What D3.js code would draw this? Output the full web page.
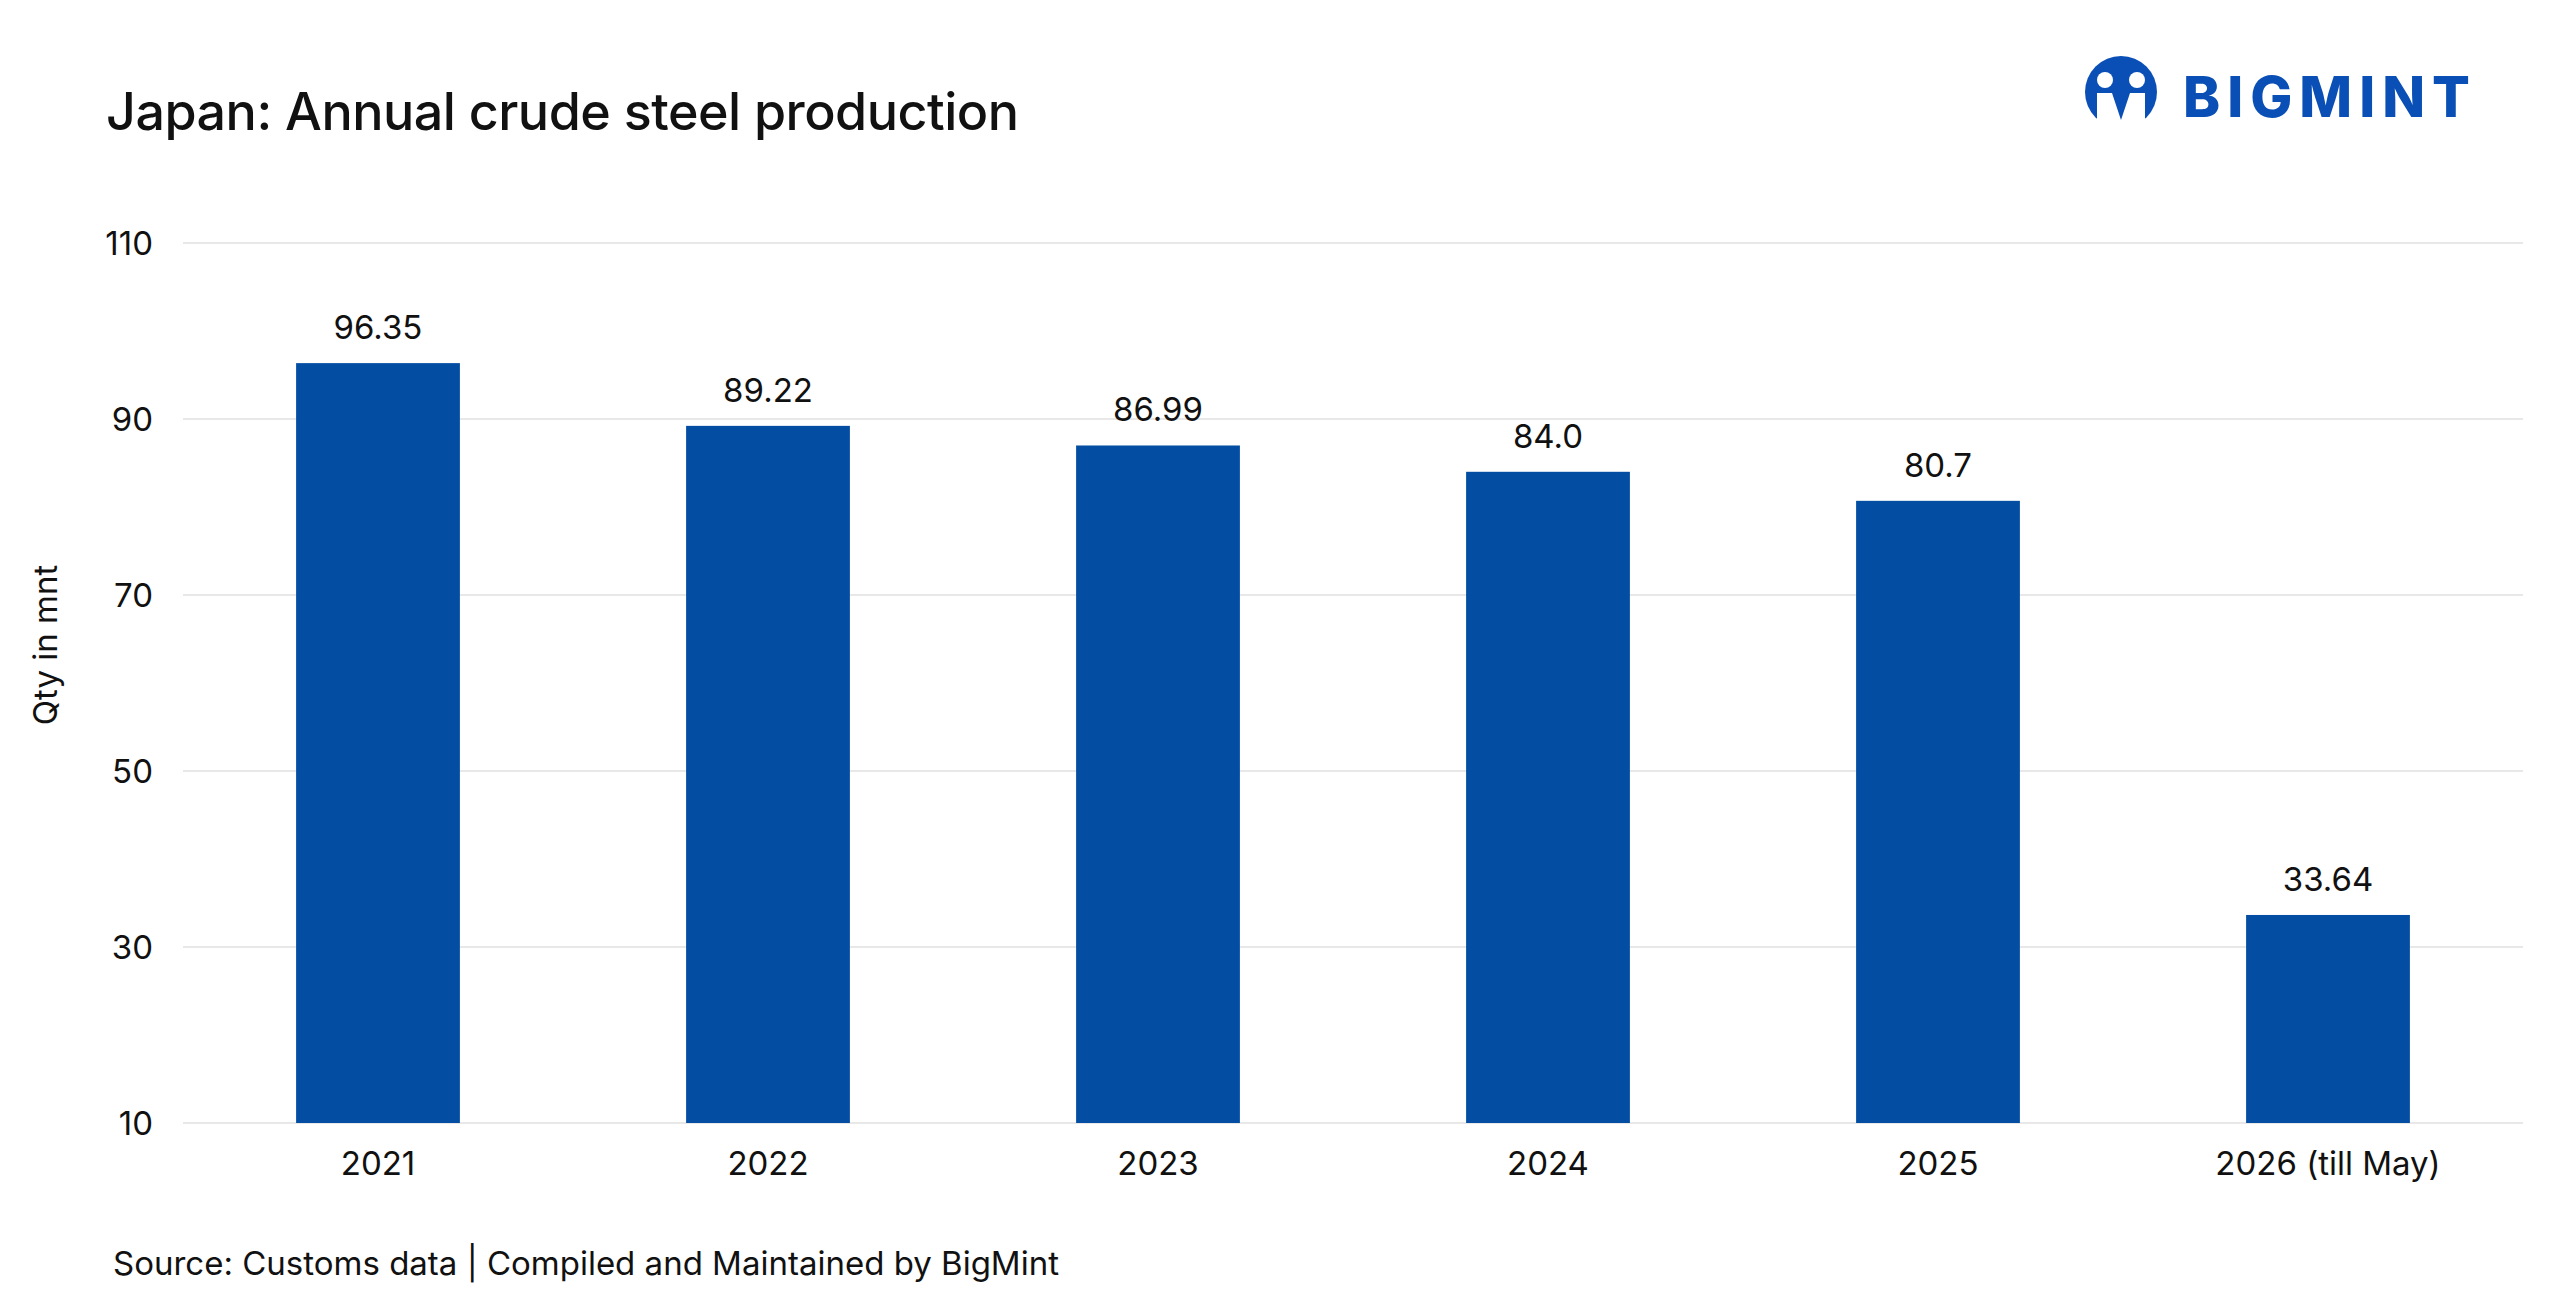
<!DOCTYPE html>
<html><head><meta charset="utf-8">
<script src="https://cdn.jsdelivr.net/npm/d3@7"></script>
<style>body{margin:0;background:#fff;font-family:Inter,"Open Sans",sans-serif;}</style>
</head><body><svg id="c" width="2560" height="1308"></svg>
<script>
// data
var years = ["2021", "2022", "2023", "2024", "2025", "2026 (till May)"];
var output = [96.35, 89.22, 86.99, 84.0, 80.7, 33.64];
var labels = ["96.35", "89.22", "86.99", "84.0", "80.7", "33.64"];
var yTicks = [10, 30, 50, 70, 90, 110];

var svg = d3.select("#c");
var plotL = 183, plotR = 2523, plotT = 243, plotB = 1123;

var x = d3.scaleBand().domain(years).range([plotL, plotR]).paddingInner(0.58).paddingOuter(0.29);
var y = d3.scaleLinear().domain([10, 110]).range([plotB, plotT]);

// grid
svg.append("g").selectAll("line").data(yTicks).join("line")
    .attr("x1", plotL).attr("x2", plotR)
    .attr("y1", d => y(d)).attr("y2", d => y(d))
    .attr("stroke", "#e8e8e8").attr("stroke-width", 2);

// y labels
svg.append("g").selectAll("text").data(yTicks).join("text")
    .attr("x", 153).attr("y", d => y(d)).attr("dy", "0.35em")
    .attr("text-anchor", "end").attr("font-size", 33).attr("fill", "#111")
    .text(d => d);

// bars
svg.append("g").selectAll("rect").data(output).join("rect")
    .attr("x", (d, i) => x(years[i])).attr("width", x.bandwidth())
    .attr("y", d => y(d)).attr("height", d => y(10) - y(d))
    .attr("fill", "#034ea2");

// value labels
svg.append("g").selectAll("text").data(output).join("text")
    .attr("x", (d, i) => x(years[i]) + x.bandwidth() / 2).attr("y", d => y(d) - 24)
    .attr("text-anchor", "middle").attr("font-size", 33).attr("fill", "#111")
    .text((d, i) => labels[i]);

// x labels
svg.append("g").selectAll("text").data(years).join("text")
    .attr("x", d => x(d) + x.bandwidth() / 2).attr("y", 1175)
    .attr("text-anchor", "middle").attr("font-size", 33).attr("fill", "#111")
    .text(d => d);

// axis title
svg.append("text").attr("transform", "translate(57,645) rotate(-90)")
    .attr("text-anchor", "middle").attr("font-size", 33).attr("fill", "#111").text("Qty in mnt");

// title + source
svg.append("text").attr("x", 106).attr("y", 130).attr("font-size", 52).attr("font-weight", 500)
    .attr("letter-spacing", -0.5).attr("fill", "#111").text("Japan: Annual crude steel production");
svg.append("text").attr("x", 113).attr("y", 1275).attr("font-size", 33).attr("fill", "#111")
    .text("Source: Customs data | Compiled and Maintained by BigMint");

// logo
var lg = svg.append("g").attr("fill", "#0a4fb5");
lg.append("circle").attr("cx", 2121).attr("cy", 92).attr("r", 36);
lg.append("circle").attr("cx", 2105).attr("cy", 80).attr("r", 8).attr("fill", "#fff");
lg.append("circle").attr("cx", 2137).attr("cy", 80).attr("r", 8).attr("fill", "#fff");
lg.append("path").attr("d", "M2097,93 L2112,93 L2121,120 L2130,93 L2145,93 L2145,130 L2097,130 Z").attr("fill", "#fff");
lg.append("text").attr("x", 2183).attr("y", 117).attr("font-size", 56).attr("font-weight", 800)
    .attr("letter-spacing", 7).text("BIGMINT");
</script></body></html>
